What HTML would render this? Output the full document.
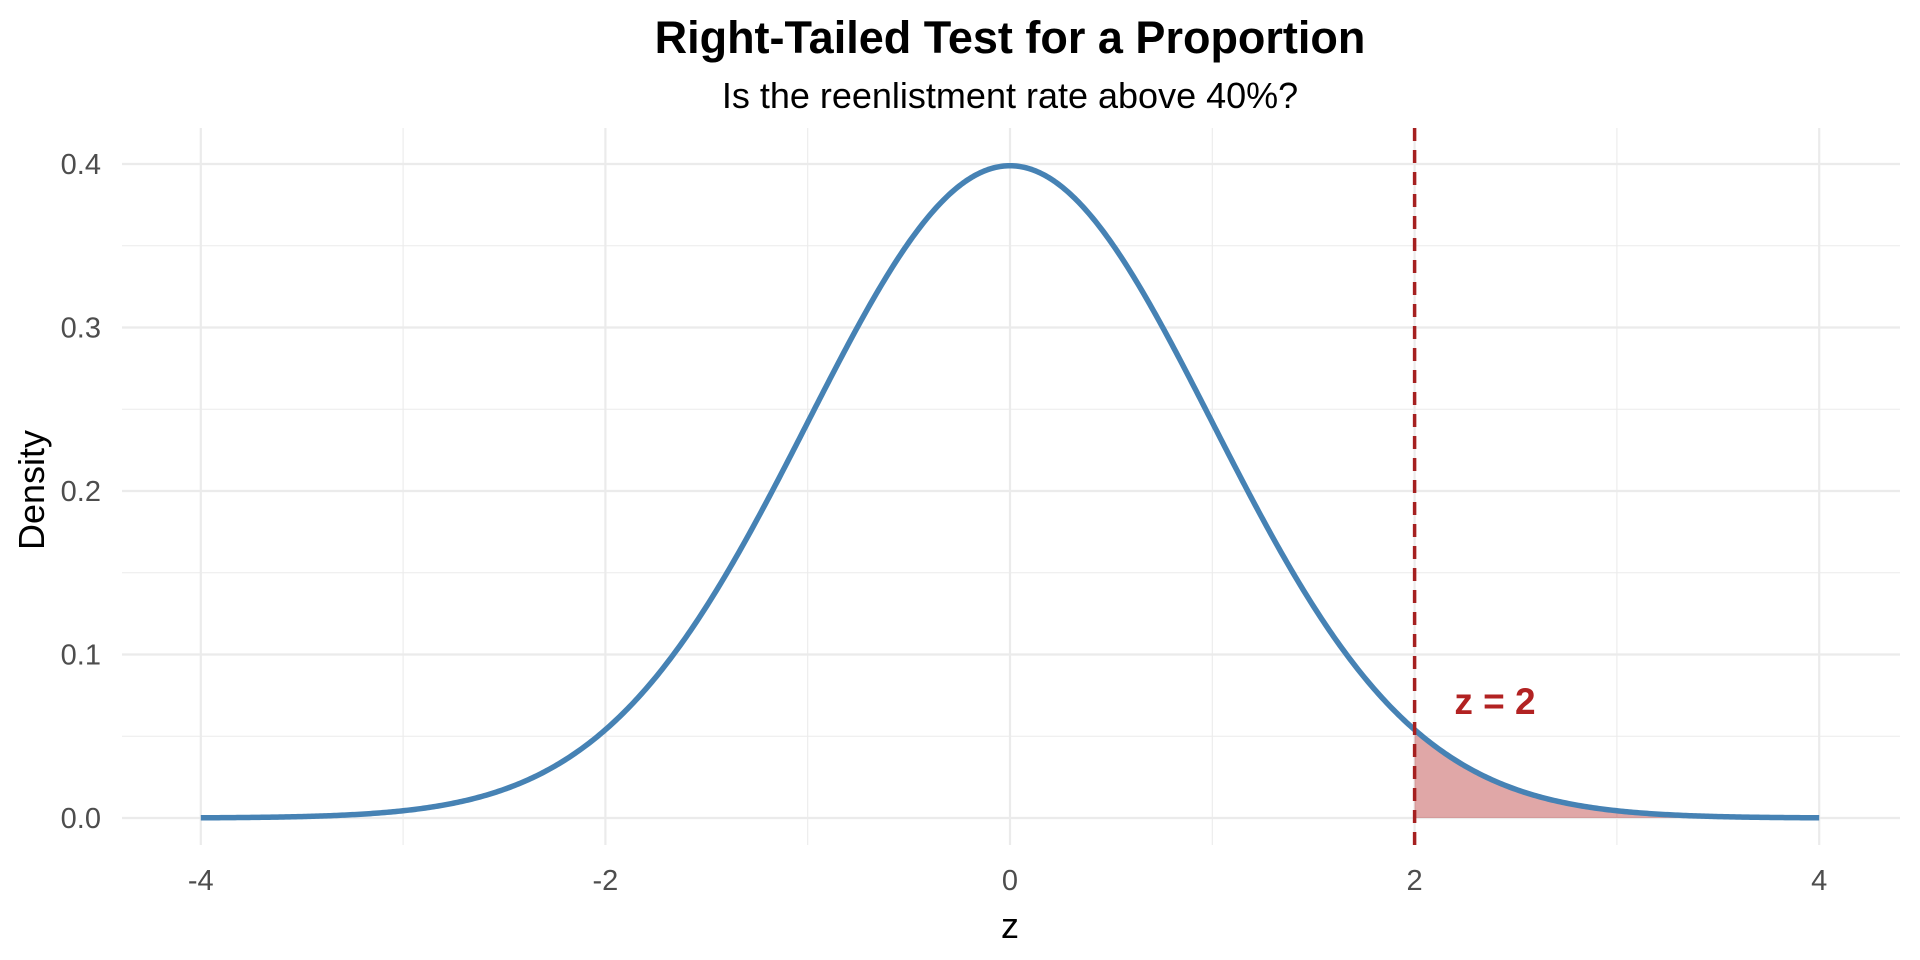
<!DOCTYPE html>
<html><head><meta charset="utf-8"><style>
html,body{margin:0;padding:0;background:#fff;}
svg{display:block;font-family:"Liberation Sans",Arial,sans-serif;}
</style></head><body>
<svg id="s" width="1920" height="960" viewBox="0 0 1920 960">
<rect width="1920" height="960" fill="#fff"/>
<g id="grid"></g>
<path id="fill" fill="#B22222" fill-opacity="0.4" stroke="none"/>
<path id="curve" fill="none" stroke="#4682B4" stroke-width="5.5" stroke-linejoin="round"/>
<line x1="1414.6" y1="128" x2="1414.6" y2="845" stroke="#A52020" stroke-width="3.5" stroke-dasharray="13,9"/>
<text x="1495" y="714" font-size="37" font-weight="bold" fill="#B22222" text-anchor="middle">z = 2</text>
<text x="1010" y="53" font-size="45" font-weight="bold" text-anchor="middle" fill="#000">Right-Tailed Test for a Proportion</text>
<text x="1010" y="108" font-size="36" text-anchor="middle" fill="#000">Is the reenlistment rate above 40%?</text>
<text x="1010" y="938" font-size="36" text-anchor="middle" fill="#000">z</text>
<text transform="translate(44,490) rotate(-90)" font-size="36" text-anchor="middle" fill="#000">Density</text>
<g id="ticks" font-size="29" fill="#4d4d4d"></g>
</svg>
<script>
var X=function(z){return 1010+z*202.3;}, Y=function(d){return 818-d*1635;};
var g='',t='';
for(var i=-4;i<=4;i++){var x=X(i);g+='<line x1="'+x+'" y1="128" x2="'+x+'" y2="845" stroke="#ebebeb" stroke-width="'+(i%2==0?2.2:1.1)+'"/>';
 if(i%2==0)t+='<text x="'+x+'" y="890" text-anchor="middle">'+i+'</text>';}
for(var j=0;j<=8;j++){var d=j*0.05,y=Y(d);g+='<line x1="122" y1="'+y+'" x2="1900" y2="'+y+'" stroke="#ebebeb" stroke-width="'+(j%2==0?2.2:1.1)+'"/>';
 if(j%2==0)t+='<text x="101" y="'+(y+10)+'" text-anchor="end">'+d.toFixed(1)+'</text>';}
document.getElementById('grid').innerHTML=g;document.getElementById('ticks').innerHTML=t;
var f=function(z){return Math.exp(-z*z/2)/Math.sqrt(2*Math.PI);};
var p='';for(var k=0;k<=800;k++){var z=-4+k*0.01;p+=(k?'L':'M')+X(z).toFixed(2)+','+Y(f(z)).toFixed(2);}
document.getElementById('curve').setAttribute('d',p);
var q='M'+X(2)+','+Y(0);for(var k=0;k<=200;k++){var z=2+k*0.01;q+='L'+X(z).toFixed(2)+','+Y(f(z)).toFixed(2);}
q+='L'+X(4)+','+Y(0)+'Z';document.getElementById('fill').setAttribute('d',q);
</script>
</body></html>
